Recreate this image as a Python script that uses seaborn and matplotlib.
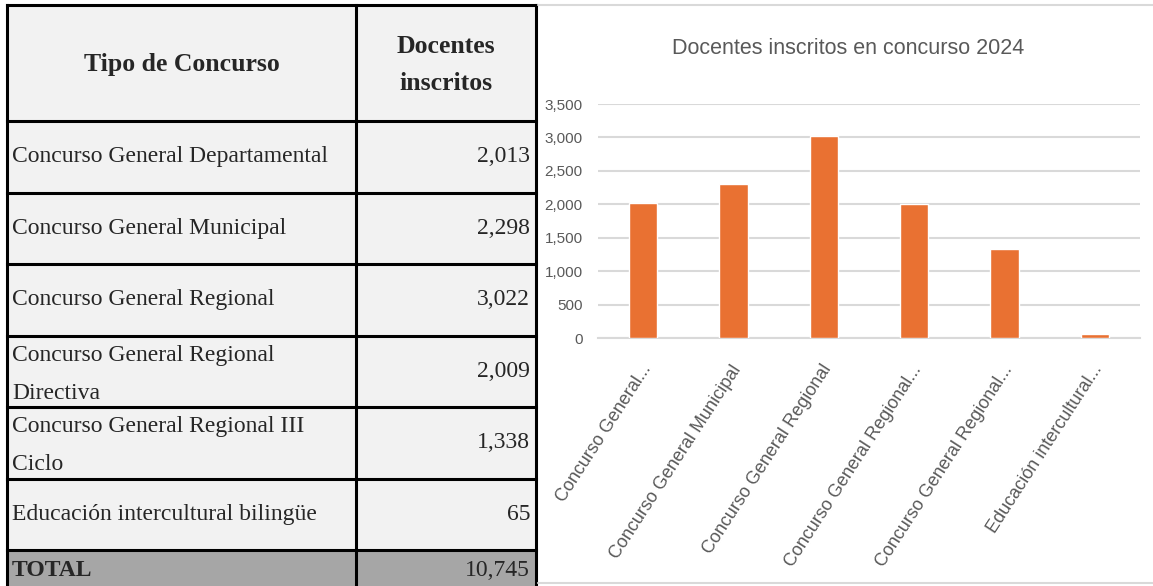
import matplotlib
matplotlib.use("Agg")
import matplotlib.pyplot as plt
from matplotlib.patches import Rectangle
from matplotlib.ticker import FuncFormatter
from matplotlib.transforms import ScaledTranslation
import pandas as pd
import seaborn as sns

# --- data ---
categories = [
    "Concurso General Departamental",
    "Concurso General Municipal",
    "Concurso General Regional",
    "Concurso General Regional Directiva",
    "Concurso General Regional III Ciclo",
    "Educación intercultural bilingüe",
]
table_labels = [
    "Concurso General Departamental",
    "Concurso General Municipal",
    "Concurso General Regional",
    "Concurso General Regional\nDirectiva",
    "Concurso General Regional III\nCiclo",
    "Educación intercultural bilingüe",
]
axis_labels = [
    "Concurso General...",
    "Concurso General Municipal",
    "Concurso General Regional",
    "Concurso General Regional...",
    "Concurso General Regional...",
    "Educación intercultural...",
]
docentes = [2013, 2298, 3022, 2009, 1338, 65]
total_docentes = 10745
y_ticks = [0, 500, 1000, 1500, 2000, 2500, 3000, 3500]

sns.set_theme(style="white")
plt.rcParams["font.family"] = ["Liberation Sans", "DejaVu Sans"]

W, H = 1153, 586
fig = plt.figure(figsize=(W / 100, H / 100), dpi=100)
fig.patch.set_facecolor("white")

# background axes in pixel coordinates (table + chart frame)
bg = fig.add_axes([0, 0, 1, 1])
bg.set_xlim(0, W)
bg.set_ylim(H, 0)
bg.axis("off")

# === table ===
tx0, tx1, tdiv = 7, 536, 356
top, head_h, row_h = 5, 116, 71.5
serif = "Liberation Serif"
fs = 17
line_kw = dict(color="black", lw=2.2, solid_capstyle="projecting")

bg.add_patch(Rectangle((tx0, top), tx1 - tx0, H - top + 40, facecolor="#f2f2f2",
                       edgecolor="none", zorder=0))
total_top = top + head_h + row_h * len(categories)
bg.add_patch(Rectangle((tx0, total_top), tx1 - tx0, 80, facecolor="#a6a6a6",
                       edgecolor="none", zorder=0))

# grid lines of the table
bg.plot([tx0, tx1], [top, top], **line_kw)
for i in range(len(categories) + 1):
    y = top + head_h + row_h * i
    bg.plot([tx0, tx1], [y, y], **line_kw)
for x in (tx0, tdiv, tx1):
    bg.plot([x, x], [top, H + 5], **line_kw)

bg.text((tx0 + tdiv) / 2, top + head_h / 2 + 2, "Tipo de Concurso", family=serif,
        fontsize=18.5, fontweight="bold", ha="center", va="center")
bg.text((tdiv + tx1) / 2, top + head_h / 2 + 2, "Docentes\ninscritos", family=serif,
        fontsize=18.5, fontweight="bold", ha="center", va="center", linespacing=1.75)

for i, (lab, val) in enumerate(zip(table_labels, docentes)):
    yc = top + head_h + row_h * (i + 0.5)
    two_lines = "\n" in lab
    bg.text(tx0 + 5, yc + (3 if two_lines else 0), lab, family=serif, fontsize=fs,
            ha="left", va="center", linespacing=2.05)
    bg.text(tx1 - 6, yc, f"{val:,}", family=serif, fontsize=fs, ha="right", va="center")

bg.text(tx0 + 5, total_top + 21, "TOTAL", family=serif, fontsize=fs, fontweight="bold",
        ha="left", va="center")
bg.text(tx1 - 6, total_top + 21, f"{total_docentes:,}", family=serif, fontsize=fs,
        ha="right", va="center")

# chart frame
bg.plot([538, W], [5, 5], color="#d9d9d9", lw=1.5)
bg.plot([538, W], [583, 583], color="#d9d9d9", lw=1.5)

bg.text(848, 49, "Docentes inscritos en concurso 2024", fontsize=15.5, color="#595959",
        ha="center", va="center")

# === bar chart ===
px0, px1, py_top, py_bot = 598, 1140, 104, 338
ax = fig.add_axes([px0 / W, (H - py_bot) / H, (px1 - px0) / W, (py_bot - py_top) / H])
ax.set_facecolor("none")

df = pd.DataFrame({"tipo": categories, "docentes": docentes})
sns.barplot(data=df, x="tipo", y="docentes", color="#E97132", width=0.31,
            saturation=1, ax=ax, zorder=3)

ax.set_ylim(0, 3500)
ax.set_yticks(y_ticks)
ax.yaxis.set_major_formatter(FuncFormatter(lambda v, p: f"{v:,.0f}"))
ax.grid(axis="y", color="#d9d9d9", lw=1.5, zorder=0)
ax.grid(axis="x", visible=False)
for s in ("top", "right", "left"):
    ax.spines[s].set_visible(False)
ax.spines["bottom"].set_color("#d9d9d9")
ax.spines["bottom"].set_linewidth(1.5)
ax.set_xlabel("")
ax.set_ylabel("")
ax.tick_params(axis="y", length=0, pad=11, labelsize=11, labelcolor="#595959")
ax.tick_params(axis="x", length=0, pad=17, labelsize=13, labelcolor="#595959")
ax.set_xticks(range(len(axis_labels)))
ax.set_xticklabels(axis_labels, rotation=57, ha="right", va="top", rotation_mode="anchor")
shift = ScaledTranslation(-0.03, 0, fig.dpi_scale_trans)
for lbl in ax.get_xticklabels():
    lbl.set_transform(lbl.get_transform() + shift)

fig.savefig("out.png", dpi=100, facecolor="white")
